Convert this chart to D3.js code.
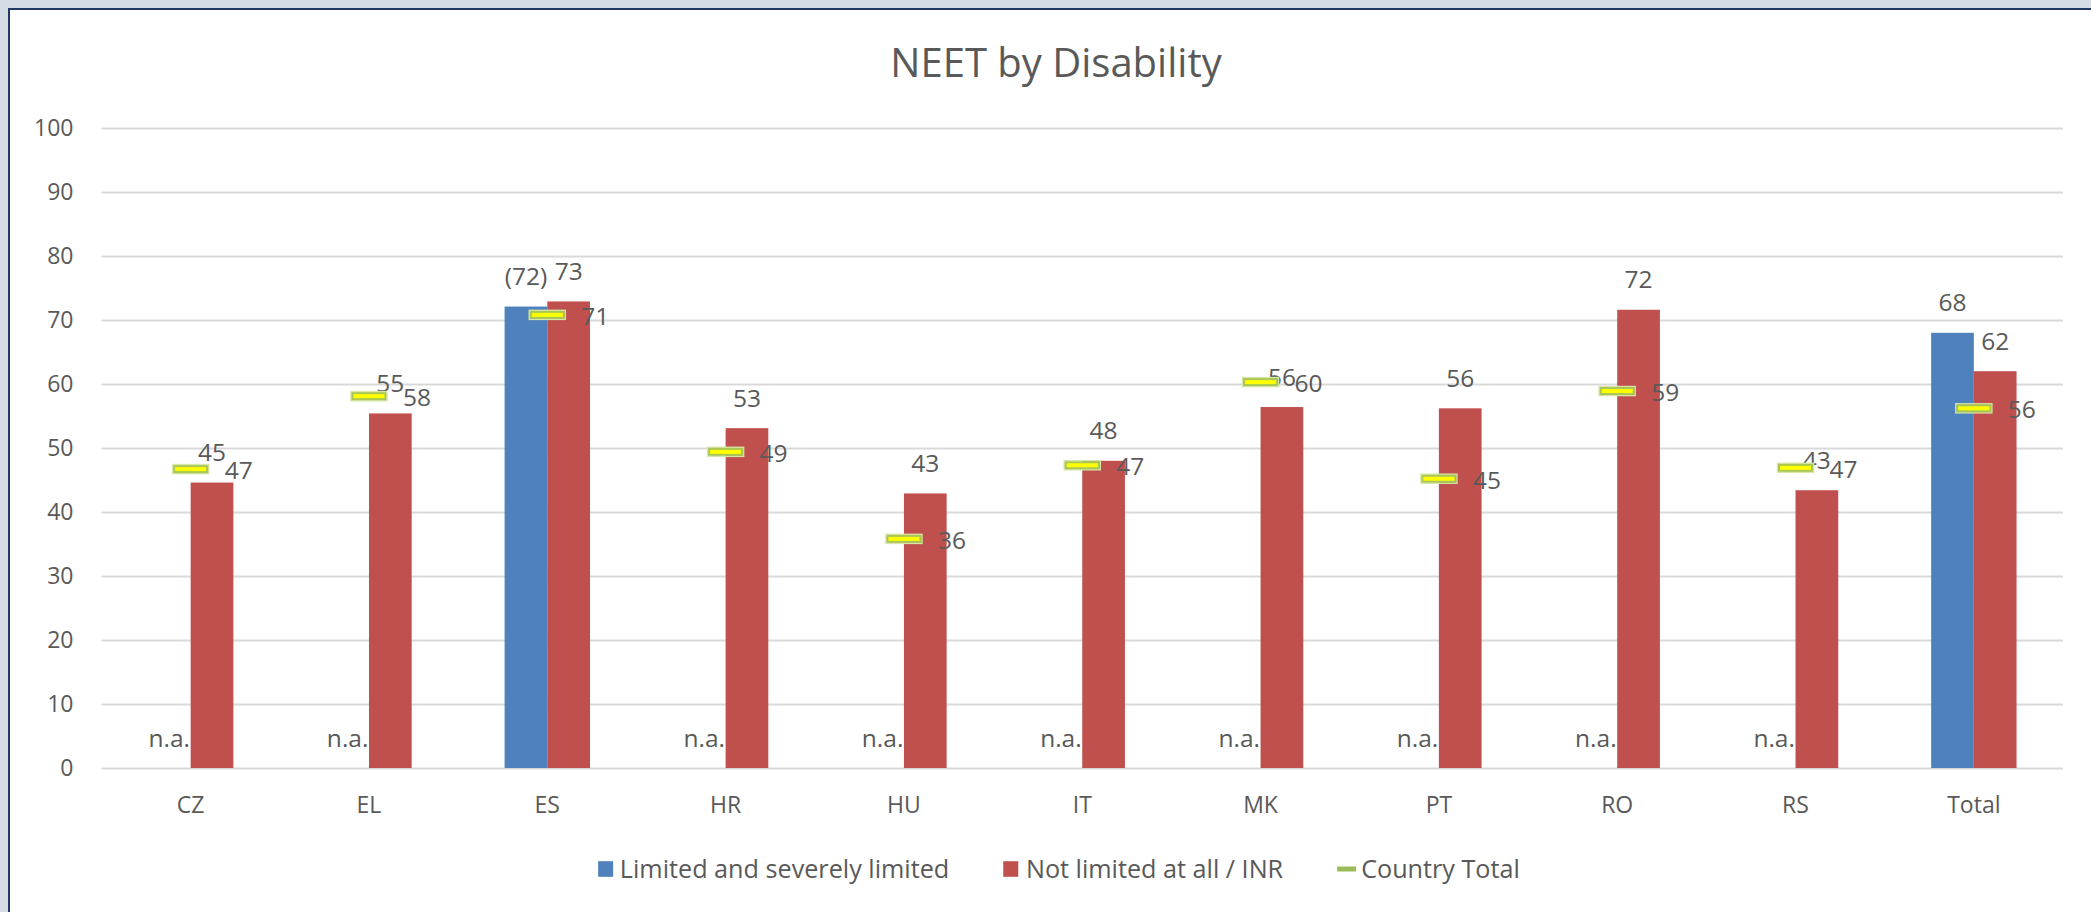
<!DOCTYPE html>
<html>
<head>
<meta charset="utf-8">
<script src="https://cdn.jsdelivr.net/npm/d3@7"></script>
<style>
  html, body { margin: 0; padding: 0; background: #d6dce5; }
  svg { display: block; }
  text { font-family: "Open Sans", "Noto Sans", sans-serif; fill: #595959; }
</style>
</head>
<body>
<svg id="chart" width="2091" height="912"></svg>
<script>
// ---- data ----
const categories = ["CZ", "EL", "ES", "HR", "HU", "IT", "MK", "PT", "RO", "RS", "Total"];
const seriesNames = ["Limited and severely limited", "Not limited at all / INR", "Country Total"];
const limited = [null, null, 72.1, null, null, null, null, null, null, null, 68.0];
const lowReliability = [false, false, true, false, false, false, false, false, false, false, false];
const notLimited = [44.6, 55.4, 72.9, 53.1, 42.9, 48.0, 56.4, 56.2, 71.6, 43.4, 62.0];
const countryTotal = [46.7, 58.1, 70.8, 49.4, 35.8, 47.3, 60.3, 45.2, 58.9, 46.9, 56.2];
const yTicks = [0, 10, 20, 30, 40, 50, 60, 70, 80, 90, 100];
const title = "NEET by Disability";

// ---- style ----
const colors = { blue: "#4f81bd", red: "#c0504d", markerFill: "#ffff00", markerStroke: "#a8c756", legendGreen: "#9bbb59" };
const W = 2091, H = 912;
const plot = { left: 101.5, right: 2063, top: 128, bottom: 768 };

const svg = d3.select("#chart");

// frame
svg.append("rect").attr("x", 0).attr("y", 0).attr("width", W).attr("height", H).attr("fill", "#d6dce5");
svg.append("rect").attr("x", 10).attr("y", 10).attr("width", W - 10).attr("height", H - 10).attr("fill", "#ffffff");
svg.append("line").attr("x1", 9).attr("x2", 9).attr("y1", 8).attr("y2", H).attr("stroke", "#1f3864").attr("stroke-width", 2);
svg.append("line").attr("x1", 8).attr("x2", W).attr("y1", 9).attr("y2", 9).attr("stroke", "#1f3864").attr("stroke-width", 2);

// scales
const x = d3.scaleBand().domain(categories).range([plot.left, plot.right]).padding(0);
const keys = ["limited", "notLimited"];
const xSub = d3.scaleBand().domain(keys).range([0, x.bandwidth()]).paddingInner(0).paddingOuter(1.088);
const y = d3.scaleLinear().domain([0, 100]).range([plot.bottom, plot.top]);

// title
svg.append("text").attr("x", 1056).attr("y", 77).attr("text-anchor", "middle")
  .style("font-size", "40px").text(title);

// y axis + gridlines
const yAxis = d3.axisLeft(y).tickValues(yTicks).tickSize(-(plot.right - plot.left)).tickPadding(28).tickFormat(d3.format("d"));
const gy = svg.append("g").attr("transform", `translate(${plot.left},0)`).call(yAxis);
gy.select(".domain").remove();
gy.selectAll(".tick line").attr("stroke", "#d9d9d9").attr("stroke-width", 2.2);
gy.selectAll(".tick text").style("font-size", "23px").style("font-family", "'Open Sans', sans-serif").attr("fill", "#595959");

// x axis labels
const xAxis = d3.axisBottom(x).tickSize(0).tickPadding(0);
const gx = svg.append("g").attr("transform", `translate(0,${plot.bottom})`).call(xAxis);
gx.select(".domain").remove();
gx.selectAll(".tick text").attr("y", 37).attr("dy", "0.35em")
  .style("font-size", "23px").style("font-family", "'Open Sans', sans-serif").attr("fill", "#595959");

// bars
const rows = categories.map((c, i) => ({ c, i, limited: limited[i], notLimited: notLimited[i], total: countryTotal[i], low: lowReliability[i] }));

const gBars = svg.append("g");
gBars.selectAll("rect.blue").data(rows.filter(d => d.limited != null)).join("rect")
  .attr("class", "blue")
  .attr("x", d => x(d.c) + xSub("limited"))
  .attr("width", xSub.bandwidth())
  .attr("y", d => y(d.limited))
  .attr("height", d => y(0) - y(d.limited))
  .attr("fill", colors.blue);
gBars.selectAll("rect.red").data(rows).join("rect")
  .attr("class", "red")
  .attr("x", d => x(d.c) + xSub("notLimited"))
  .attr("width", xSub.bandwidth())
  .attr("y", d => y(d.notLimited))
  .attr("height", d => y(0) - y(d.notLimited))
  .attr("fill", colors.red);

// bar labels
const labelOffset = 30;
const gLab = svg.append("g").style("font-size", "24.5px");
gLab.selectAll("text.lblBlue").data(rows).join("text")
  .attr("class", "lblBlue")
  .attr("x", d => x(d.c) + xSub("limited") + xSub.bandwidth() / 2)
  .attr("y", d => y(d.limited == null ? 0 : d.limited) - labelOffset)
  .attr("dy", "0.35em").attr("text-anchor", "middle")
  .text(d => d.limited == null ? "n.a." : (d.low ? `(${Math.round(d.limited)})` : `${Math.round(d.limited)}`));
gLab.selectAll("text.lblRed").data(rows).join("text")
  .attr("class", "lblRed")
  .attr("x", d => x(d.c) + xSub("notLimited") + xSub.bandwidth() / 2)
  .attr("y", d => y(d.notLimited) - labelOffset)
  .attr("dy", "0.35em").attr("text-anchor", "middle")
  .text(d => Math.round(d.notLimited));

// country total markers
const mW = 33, mH = 6;
const gM = svg.append("g");
gM.selectAll("rect.glow").data(rows).join("rect")
  .attr("class", "glow")
  .attr("x", d => x(d.c) + x.bandwidth() / 2 - mW / 2 - 1.5)
  .attr("y", d => y(d.total) - mH / 2 - 1.5)
  .attr("width", mW + 3).attr("height", mH + 3)
  .attr("fill", "none").attr("stroke", "#d8e6a6").attr("stroke-width", 1.5);
gM.selectAll("rect.mark").data(rows).join("rect")
  .attr("class", "mark")
  .attr("x", d => x(d.c) + x.bandwidth() / 2 - mW / 2)
  .attr("y", d => y(d.total) - mH / 2)
  .attr("width", mW).attr("height", mH)
  .attr("fill", colors.markerFill).attr("stroke", colors.markerStroke).attr("stroke-width", 2);
gLab.selectAll("text.lblTot").data(rows).join("text")
  .attr("class", "lblTot")
  .attr("x", d => x(d.c) + x.bandwidth() / 2 + 34)
  .attr("y", d => y(d.total) + 1.5)
  .attr("dy", "0.35em").attr("text-anchor", "start")
  .text(d => Math.round(d.total));

// legend
const legendY = 869;
const legendCenter = 1059;
const gL = svg.append("g");
const items = [
  { name: seriesNames[0], type: "square", color: colors.blue },
  { name: seriesNames[1], type: "square", color: colors.red },
  { name: seriesNames[2], type: "dash", color: colors.legendGreen }
];
const symW = [15, 15, 19];
const textGap = [6.7, 7.7, 5];
const itemGap = 54;
const itemGs = items.map((it, i) => {
  const g = gL.append("g");
  if (it.type === "square") {
    g.append("rect").attr("x", 0).attr("y", legendY - 7.8).attr("width", 15).attr("height", 15.6).attr("fill", it.color);
  } else {
    g.append("rect").attr("x", 0).attr("y", legendY - 2.5).attr("width", 19).attr("height", 5).attr("fill", it.color);
  }
  const t = g.append("text").attr("x", symW[i] + textGap[i]).attr("y", legendY).attr("dy", "0.35em")
    .style("font-size", "25.2px").text(it.name);
  return { g, w: symW[i] + textGap[i] + t.node().getComputedTextLength() };
});
const totalW = d3.sum(itemGs, d => d.w) + itemGap * (itemGs.length - 1);
let cx = legendCenter - totalW / 2;
itemGs.forEach(d => { d.g.attr("transform", `translate(${cx},0)`); cx += d.w + itemGap; });
</script>
</body>
</html>
